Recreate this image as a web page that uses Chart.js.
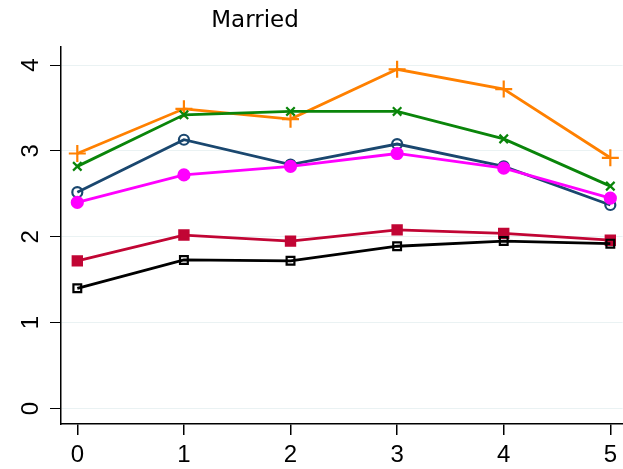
<!DOCTYPE html>
<html>
<head>
<meta charset="utf-8">
<script src="https://cdn.jsdelivr.net/npm/chart.js@4"></script>
<style>
  html, body { margin: 0; padding: 0; background: #fff; }
  #wrap { width: 623px; height: 469px; }
</style>
</head>
<body>
<div id="wrap"><canvas id="grafico" width="623" height="469"></canvas></div>
<script>
//Datos
const xVals = [0, 1, 2, 3, 4, 5];
const xTicks = [0, 1, 2, 3, 4, 5];
const yTicks = [0, 1, 2, 3, 4];
const serieNaranja = [2.97, 3.49, 3.37, 3.95, 3.72, 2.92];
const serieVerde = [2.82, 3.42, 3.46, 3.46, 3.14, 2.59];
const serieAzul = [2.52, 3.13, 2.84, 3.08, 2.82, 2.37];
const serieMagenta = [2.40, 2.72, 2.82, 2.97, 2.80, 2.45];
const serieRoja = [1.72, 2.02, 1.95, 2.08, 2.04, 1.96];
const serieNegra = [1.40, 1.73, 1.72, 1.89, 1.95, 1.92];
const titulo = "Married";

const fuente = "'Liberation Sans', Arial, sans-serif";

function puntos(serie) {
  return xVals.map((x, i) => ({ x: x, y: serie[i] }));
}

function serie(valores, color, estilo, radio, relleno) {
  return {
    data: puntos(valores),
    borderColor: color,
    backgroundColor: relleno ? color : "rgba(0,0,0,0)",
    pointBorderColor: color,
    pointBackgroundColor: relleno ? color : "rgba(0,0,0,0)",
    pointStyle: estilo,
    pointRadius: radio,
    pointBorderWidth: 2.2,
    borderWidth: 2.8,
    tension: 0,
  };
}

//Etiquetas rotadas del eje y y titulo
const extras = {
  id: "extras",
  afterDraw(chart) {
    const ctx = chart.ctx;
    const y = chart.scales.y;
    ctx.save();
    ctx.fillStyle = "#000";
    ctx.font = "24px " + fuente;
    ctx.textAlign = "center";
    ctx.textBaseline = "middle";
    yTicks.forEach((v) => {
      ctx.save();
      ctx.translate(31, y.getPixelForValue(v));
      ctx.rotate(-Math.PI / 2);
      ctx.fillText(String(v), 0, 0);
      ctx.restore();
    });
    ctx.font = "23px 'DejaVu Sans', sans-serif";
    ctx.textBaseline = "alphabetic";
    ctx.fillText(titulo, 255, 27);
    ctx.restore();
  },
};

const ctx = document.getElementById("grafico").getContext("2d");
new Chart(ctx, {
  type: "line",
  data: {
    datasets: [
      serie(serieNegra, "#000000", "rect", 5.5, false),
      serie(serieRoja, "#c10534", "rect", 6.5, true),
      serie(serieMagenta, "#ff00ff", "circle", 5.5, true),
      serie(serieAzul, "#1a476f", "circle", 5, false),
      serie(serieVerde, "#0a850a", "crossRot", 6, false),
      serie(serieNaranja, "#ff8000", "cross", 8.5, false),
    ],
  },
  plugins: [extras],
  options: {
    responsive: false,
    animation: false,
    layout: { autoPadding: false, padding: { top: 47, right: 0, left: 0, bottom: 0 } },
    plugins: {
      legend: { display: false },
      tooltip: { enabled: false },
    },
    scales: {
      x: {
        type: "linear",
        min: -0.153,
        max: 5.115,
        afterBuildTicks: (s) => { s.ticks = xTicks.map((v) => ({ value: v })); },
        afterFit: (s) => { s.height = 45; },
        border: { display: true, color: "#000", width: 1.5 },
        grid: {
          drawOnChartArea: false,
          drawTicks: true,
          tickLength: 11,
          tickColor: "#000",
          lineWidth: 1.5,
        },
        ticks: {
          color: "#000",
          font: { family: fuente, size: 24 },
          padding: 6,
          maxRotation: 0,
        },
      },
      y: {
        type: "linear",
        min: -0.18,
        max: 4.21,
        afterBuildTicks: (s) => { s.ticks = yTicks.map((v) => ({ value: v })); },
        afterFit: (s) => { s.width = 61; },
        border: { display: true, color: "#000", width: 1.5 },
        grid: {
          color: "#eaf2f3",
          lineWidth: 1,
          drawTicks: true,
          tickLength: 11,
          tickColor: "#000",
        },
        ticks: {
          display: true,
          color: "rgba(0,0,0,0)",
          font: { family: fuente, size: 24 },
        },
      },
    },
  },
});
</script>
</body>
</html>
